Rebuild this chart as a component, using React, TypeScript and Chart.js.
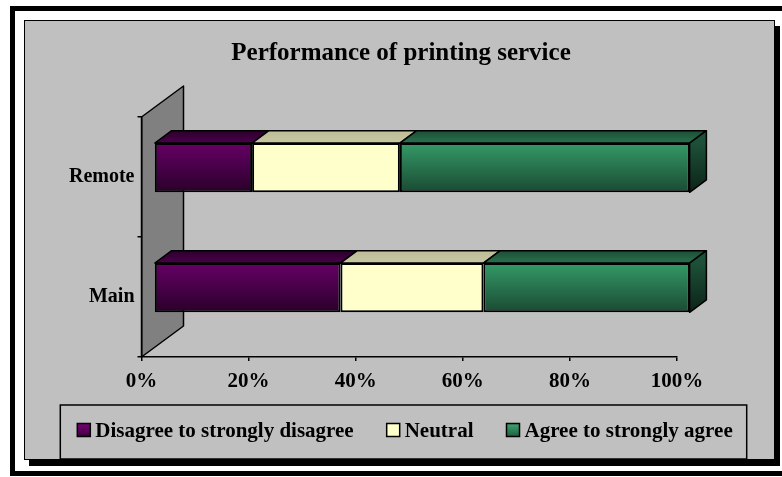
import { useEffect, useRef } from 'react';
import { Chart, registerables } from 'chart.js';

Chart.register(...registerables);

const chartTitle = 'Performance of printing service';
const categories = ['Remote', 'Main'];
const seriesNames = ['Disagree to strongly disagree', 'Neutral', 'Agree to strongly agree'];
const disagree = [18.3, 34.8];
const neutral = [27.6, 26.7];
const agree = [54.1, 38.5];
const xTickLabels = ['0%', '20%', '40%', '60%', '80%', '100%'];

const FONT = "'Liberation Serif', 'Times New Roman', serif";
const DEPTH_X = 42;
const DEPTH_Y = -31;
const BAR_FRONT = 0.3;
const BAR_BACK = 0.7;
const BAR_PCT = 0.41;

type Shade = { front: [string, string]; top: [string, string]; side: [string, string]; swatch: [string, string] };
const shades: Shade[] = [
  { front: ['#660066', '#2a002a'], top: ['#2c002c', '#4a004a'], side: ['#3a003a', '#1a001a'], swatch: ['#700070', '#330033'] },
  { front: ['#FFFFCC', '#FFFFCC'], top: ['#BDBD98', '#C6C6A2'], side: ['#BDBD98', '#9a9a7a'], swatch: ['#FFFFCC', '#FFFFCC'] },
  { front: ['#349a67', '#1a4a33'], top: ['#1b4e35', '#2a714e'], side: ['#1d5038', '#0b2318'], swatch: ['#3a9a6a', '#1c5538'] },
];

const frontFill = (i: number) => (c: any) => {
  const chart = c.chart;
  const ys = chart.scales?.y;
  if (!chart.chartArea || !ys || c.type !== 'data') return shades[i].front[0];
  const cy = ys.getPixelForValue(c.dataIndex);
  const band = Math.abs(ys.getPixelForValue(1) - ys.getPixelForValue(0));
  const half = (band * BAR_PCT) / 2;
  const g = chart.ctx.createLinearGradient(0, cy - half, 0, cy + half);
  g.addColorStop(0, shades[i].front[0]);
  g.addColorStop(1, shades[i].front[1]);
  return g;
};

const wallPlugin = {
  id: 'wall3d',
  beforeDraw(chart: any) {
    const { ctx, chartArea: a } = chart;
    ctx.save();
    ctx.beginPath();
    ctx.moveTo(a.left, a.bottom);
    ctx.lineTo(a.left, a.top);
    ctx.lineTo(a.left + DEPTH_X, a.top + DEPTH_Y);
    ctx.lineTo(a.left + DEPTH_X, a.bottom + DEPTH_Y);
    ctx.closePath();
    ctx.fillStyle = '#808080';
    ctx.fill();
    ctx.strokeStyle = '#000';
    ctx.lineWidth = 1.5;
    ctx.lineJoin = 'round';
    ctx.stroke();
    ctx.restore();
  },
};

const bar3dPlugin = {
  id: 'bar3d',
  beforeDatasetsDraw(chart: any) {
    const ctx = chart.ctx;
    ctx.save();
    ctx.translate(DEPTH_X * BAR_FRONT, DEPTH_Y * BAR_FRONT);
  },
  afterDatasetsDraw(chart: any) {
    const ctx = chart.ctx;
    const dx = DEPTH_X * (BAR_BACK - BAR_FRONT);
    const dy = DEPTH_Y * (BAR_BACK - BAR_FRONT);
    const n = chart.data.datasets.length;
    ctx.lineWidth = 1.5;
    ctx.strokeStyle = '#000';
    ctx.lineJoin = 'round';
    chart.data.datasets.forEach((_ds: any, i: number) => {
      const meta = chart.getDatasetMeta(i);
      meta.data.forEach((el: any) => {
        const { x, y, base, height } = el.getProps(['x', 'y', 'base', 'height'], true);
        const top = y - height / 2;
        const bottom = y + height / 2;
        const x0 = Math.min(x, base);
        const x1 = Math.max(x, base);
        const g = ctx.createLinearGradient(0, top + dy, 0, top);
        g.addColorStop(0, shades[i].top[0]);
        g.addColorStop(1, shades[i].top[1]);
        ctx.beginPath();
        ctx.moveTo(x0, top);
        ctx.lineTo(x1, top);
        ctx.lineTo(x1 + dx, top + dy);
        ctx.lineTo(x0 + dx, top + dy);
        ctx.closePath();
        ctx.fillStyle = g;
        ctx.fill();
        ctx.stroke();
        if (i === n - 1) {
          const gs = ctx.createLinearGradient(0, top, 0, bottom);
          gs.addColorStop(0, shades[i].side[0]);
          gs.addColorStop(1, shades[i].side[1]);
          ctx.beginPath();
          ctx.moveTo(x1, top);
          ctx.lineTo(x1 + dx, top + dy);
          ctx.lineTo(x1 + dx, bottom + dy);
          ctx.lineTo(x1, bottom);
          ctx.closePath();
          ctx.fillStyle = gs;
          ctx.fill();
          ctx.stroke();
        }
      });
    });
    ctx.restore();
  },
};

const legendPlugin = {
  id: 'boxLegend',
  afterDraw(chart: any) {
    const { ctx, chartArea: a } = chart;
    ctx.save();
    ctx.font = `bold 21px ${FONT}`;
    const box = 13;
    const gap = 5;
    const spacing = 33;
    const widths = seriesNames.map((s) => ctx.measureText(s).width);
    const total = widths.reduce((s, w) => s + box + gap + w, 0) + spacing * (seriesNames.length - 1);
    const cx = chart.width / 2 + 14;
    let x = cx - total / 2;
    const top = a.bottom + 48;
    const h = 54;
    const cy = top + h / 2;
    ctx.strokeStyle = '#000';
    ctx.lineWidth = 1.5;
    ctx.strokeRect(x - 17, top, total + 31, h);
    seriesNames.forEach((name, i) => {
      const g = ctx.createLinearGradient(0, cy - box / 2, 0, cy + box / 2);
      g.addColorStop(0, shades[i].swatch[0]);
      g.addColorStop(1, shades[i].swatch[1]);
      ctx.fillStyle = g;
      ctx.fillRect(x, cy - box / 2 - 2, box, box);
      ctx.strokeRect(x, cy - box / 2 - 2, box, box);
      ctx.fillStyle = '#000';
      ctx.textBaseline = 'middle';
      ctx.textAlign = 'left';
      ctx.fillText(name, x + box + gap, cy);
      x += box + gap + widths[i] + spacing;
    });
    ctx.restore();
  },
};

export default function App() {
  const ref = useRef<HTMLCanvasElement | null>(null);
  useEffect(() => {
    if (!ref.current) return;
    const series = [disagree, neutral, agree];
    const chart = new Chart(ref.current, {
      type: 'bar',
      data: {
        labels: categories,
        datasets: seriesNames.map((name, i) => ({
          label: name,
          data: series[i],
          backgroundColor: frontFill(i),
          borderColor: '#000',
          borderWidth: 2,
          borderSkipped: false,
          barPercentage: BAR_PCT,
          categoryPercentage: 1,
          clip: false as any,
          yAxisID: 'y',
        })),
      },
      options: {
        indexAxis: 'y',
        responsive: false,
        animation: false,
        devicePixelRatio: 1,
        events: [],
        layout: { padding: { left: 55, right: 35, top: 0, bottom: 80 } },
        plugins: {
          legend: { display: false },
          tooltip: { enabled: false },
          title: {
            display: true,
            text: chartTitle,
            color: '#000',
            font: { family: FONT, size: 25, weight: 'bold' },
            padding: { top: 39, bottom: 48 },
          },
        },
        scales: {
          x: {
            stacked: true,
            min: 0,
            max: 100,
            afterFit: (s: any) => { s.height = 40; },
            grid: { drawOnChartArea: false, tickLength: 4, color: '#000', lineWidth: 1.5 },
            border: { color: '#000', width: 1.5 },
            ticks: {
              stepSize: 20,
              autoSkip: false,
              maxRotation: 0,
              padding: 8,
              color: '#000',
              font: { family: FONT, size: 21, weight: 'bold' },
              callback: (_v: any, i: number) => xTickLabels[i],
            },
          },
          y: {
            stacked: true,
            position: 'left',
            afterFit: (s: any) => { s.width = 86.5; },
            grid: { drawOnChartArea: false, tickLength: 4, color: '#000', lineWidth: 1.5, offset: true },
            border: { color: '#000', width: 1.5 },
            ticks: {
              padding: 3,
              color: '#000',
              font: { family: FONT, size: 20, weight: 'bold' },
            },
          },
          depthRoom: {
            type: 'linear',
            axis: 'y',
            position: 'right',
            display: true,
            afterFit: (s: any) => { s.width = 70; },
            grid: { display: false, drawTicks: false },
            border: { display: false },
            ticks: { display: false },
          },
        },
      },
      plugins: [wallPlugin, bar3dPlugin, legendPlugin],
    } as any);
    return () => chart.destroy();
  }, []);

  return (
    <div style={{ position: 'fixed', left: 0, top: 0, width: 782, height: 477, overflow: 'hidden', background: '#fff' }}>
      <div
        style={{
          position: 'absolute', left: 10, top: 6, width: 800, height: 470,
          boxSizing: 'border-box', border: '5px solid #000',
        }}
      />
      <div
        style={{
          position: 'absolute', left: 24, top: 20, width: 751, height: 440,
          boxSizing: 'border-box', background: '#C0C0C0', border: '1.5px solid #000',
          boxShadow: '5px 6px 0 0 #000',
        }}
      />
      <canvas ref={ref} width={782} height={477} style={{ position: 'absolute', left: 0, top: 0, width: 782, height: 477 }} />
    </div>
  );
}
